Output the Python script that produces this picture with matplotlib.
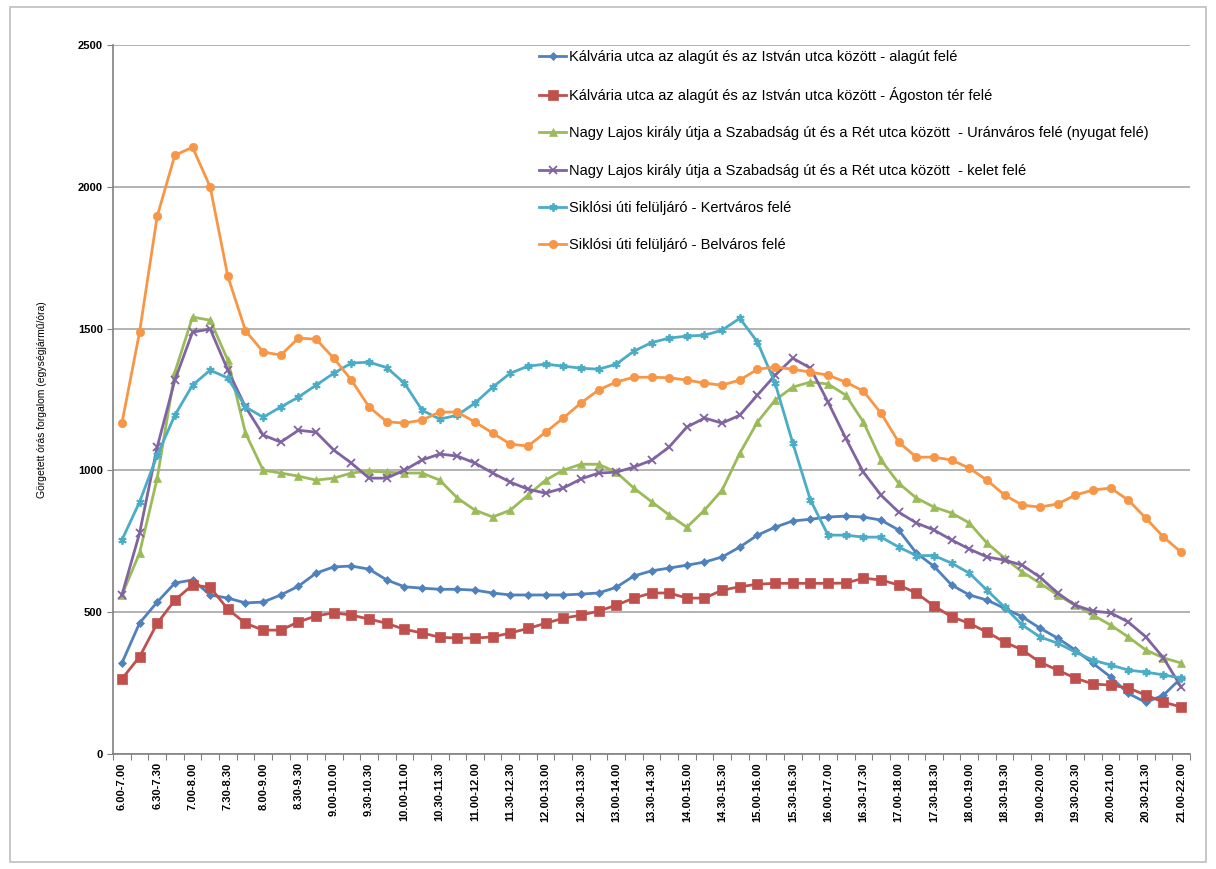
import numpy as np
import matplotlib
matplotlib.use("Agg")
import matplotlib.pyplot as plt
from matplotlib.patches import Rectangle

plt.rcParams['font.family'] = ['Liberation Sans', 'DejaVu Sans']

tick_labels = ["6.00-7.00", "6.30-7.30", "7.00-8.00", "7.30-8.30", "8.00-9.00", "8.30-9.30",
               "9.00-10.00", "9.30-10.30", "10.00-11.00", "10.30-11.30", "11.00-12.00",
               "11.30-12.30", "12.00-13.00", "12.30-13.30", "13.00-14.00", "13.30-14.30",
               "14.00-15.00", "14.30-15.30", "15.00-16.00", "15.30-16.30", "16.00-17.00",
               "16.30-17.30", "17.00-18.00", "17.30-18.30", "18.00-19.00", "18.30-19.30",
               "19.00-20.00", "19.30-20.30", "20.00-21.00", "20.30-21.30", "21.00-22.00"]

kalvaria_alagut = [321, 462, 536, 603, 614, 561, 550, 533, 536, 561, 592, 638, 660, 663, 652, 614,
                   590, 585, 581, 581, 578, 568, 561, 561, 561, 561, 564, 568, 588, 628, 646,
                   656, 666, 677, 695, 730, 772, 800, 822, 828, 836, 839, 836, 825, 790, 709,
                   662, 596, 561, 543, 514, 484, 444, 409, 367, 320, 272, 214, 182, 208, 268]
kalvaria_agoston = [265, 343, 461, 543, 596, 588, 511, 461, 437, 437, 466, 487, 498, 490, 476, 461,
                    440, 427, 412, 409, 409, 413, 427, 443, 461, 479, 490, 504, 525, 550, 568,
                    568, 550, 550, 578, 590, 599, 602, 602, 602, 602, 603, 620, 614, 596, 568,
                    522, 484, 461, 430, 395, 367, 324, 296, 268, 247, 243, 233, 208, 183, 166]
nagylajos_uranvaros = [561, 709, 973, 1347, 1541, 1530, 1389, 1132, 1001, 991, 980, 966, 973, 991,
                       998, 994, 991, 991, 966, 903, 860, 836, 860, 913, 966, 1001, 1022, 1022,
                       994, 938, 890, 843, 800, 860, 931, 1061, 1171, 1248, 1294, 1312, 1305,
                       1266, 1171, 1037, 955, 903, 871, 850, 815, 744, 691, 642, 603, 561, 525,
                       490, 455, 413, 367, 339, 321]
nagylajos_kelet = [561, 779, 1083, 1319, 1488, 1499, 1354, 1224, 1125, 1100, 1142, 1135, 1072, 1026,
                   973, 973, 1001, 1037, 1058, 1051, 1026, 991, 959, 934, 920, 938, 970, 991, 994,
                   1012, 1036, 1083, 1153, 1185, 1167, 1195, 1266, 1336, 1396, 1361, 1241, 1114,
                   994, 913, 853, 815, 790, 755, 723, 695, 684, 666, 624, 568, 525, 504, 498, 466,
                   413, 339, 236]
siklosi_kertvaros = [755, 889, 1054, 1195, 1301, 1354, 1326, 1224, 1188, 1224, 1259, 1301, 1343,
                     1379, 1382, 1363, 1308, 1213, 1181, 1195, 1238, 1294, 1343, 1368, 1375, 1368,
                     1361, 1357, 1375, 1421, 1451, 1467, 1474, 1477, 1495, 1537, 1453, 1308, 1097,
                     896, 772, 772, 765, 765, 730, 700, 700, 673, 638, 578, 518, 455, 413, 391, 360,
                     331, 314, 296, 289, 279, 268]
siklosi_belvaros = [1167, 1488, 1897, 2112, 2140, 2000, 1685, 1493, 1418, 1407, 1467, 1463, 1396,
                    1319, 1224, 1172, 1167, 1178, 1206, 1206, 1171, 1132, 1093, 1086, 1135, 1185,
                    1238, 1284, 1312, 1329, 1329, 1327, 1319, 1308, 1301, 1319, 1357, 1365, 1357,
                    1347, 1336, 1312, 1280, 1202, 1100, 1047, 1047, 1037, 1008, 966, 913, 878, 871,
                    882, 913, 931, 938, 896, 832, 765, 712]

series_names = [
    "Kálvária utca az alagút és az István utca között - alagút felé",
    "Kálvária utca az alagút és az István utca között - Ágoston tér felé",
    "Nagy Lajos király útja a Szabadság út és a Rét utca között  - Uránváros felé (nyugat felé)",
    "Nagy Lajos király útja a Szabadság út és a Rét utca között  - kelet felé",
    "Siklósi úti felüljáró - Kertváros felé",
    "Siklósi úti felüljáró - Belváros felé",
]
series_values = [kalvaria_alagut, kalvaria_agoston, nagylajos_uranvaros,
                 nagylajos_kelet, siklosi_kertvaros, siklosi_belvaros]
colors = ["#4F81BD", "#C0504D", "#9BBB59", "#8064A2", "#4BACC6", "#F79646"]
markers = ["D", "s", "^", "x", (6, 2, 0), "o"]
msizes = [4.5, 7, 6, 5.5, 6, 6]

y_label = "Görgetett órás forgalom (egységjármű/óra)"

fig = plt.figure(figsize=(12.16, 8.69), dpi=100)
fig.patches.append(Rectangle((0.008, 0.008), 0.984, 0.984, transform=fig.transFigure,
                             fill=False, edgecolor="#BFBFBF", linewidth=1.2))
ax = fig.add_axes([0.093, 0.1323, 0.8856, 0.8157])

n = len(siklosi_belvaros)
x = np.arange(n)
for vals, name, c, m, ms in zip(series_values, series_names, colors, markers, msizes):
    ax.plot(x, vals, color=c, marker=m, markersize=ms, linewidth=2.0, label=name,
            markeredgewidth=1.3 if m in ("x", (6, 2, 0)) else 0.5,
            markeredgecolor=c, markerfacecolor=c)

ax.set_xlim(-0.5, n - 0.5)
ax.set_ylim(0, 2500)
ax.set_yticks([0, 500, 1000, 1500, 2000, 2500])
ax.set_yticklabels(["0", "500", "1000", "1500", "2000", "2500"], fontsize=8, fontweight="bold")
ax.yaxis.grid(True, color="#A6A6A6", linewidth=1.2)
ax.set_axisbelow(True)

ax.set_xticks(np.arange(-0.5, n, 1))
ax.set_xticklabels([])
ax.tick_params(axis="x", which="major", length=4, color="#808080", direction="out")
ax.set_xticks(np.arange(0, n, 2), minor=True)
ax.set_xticklabels(tick_labels, minor=True, rotation=90, fontsize=8, fontweight="bold")
ax.tick_params(axis="x", which="minor", length=0, pad=6)
ax.tick_params(axis="y", length=4, color="#808080")

for s in ["top", "right"]:
    ax.spines[s].set_visible(False)
for s in ["left", "bottom"]:
    ax.spines[s].set_color("#808080")
    ax.spines[s].set_linewidth(1.2)

ax.set_ylabel(y_label, fontsize=7.5, labelpad=22)

leg = ax.legend(loc="upper left", bbox_to_anchor=(0.383, 1.012), frameon=False,
                fontsize=10.5, labelspacing=1.6, handlelength=1.9, handletextpad=0.15)

fig.savefig("out.png", dpi=100)
